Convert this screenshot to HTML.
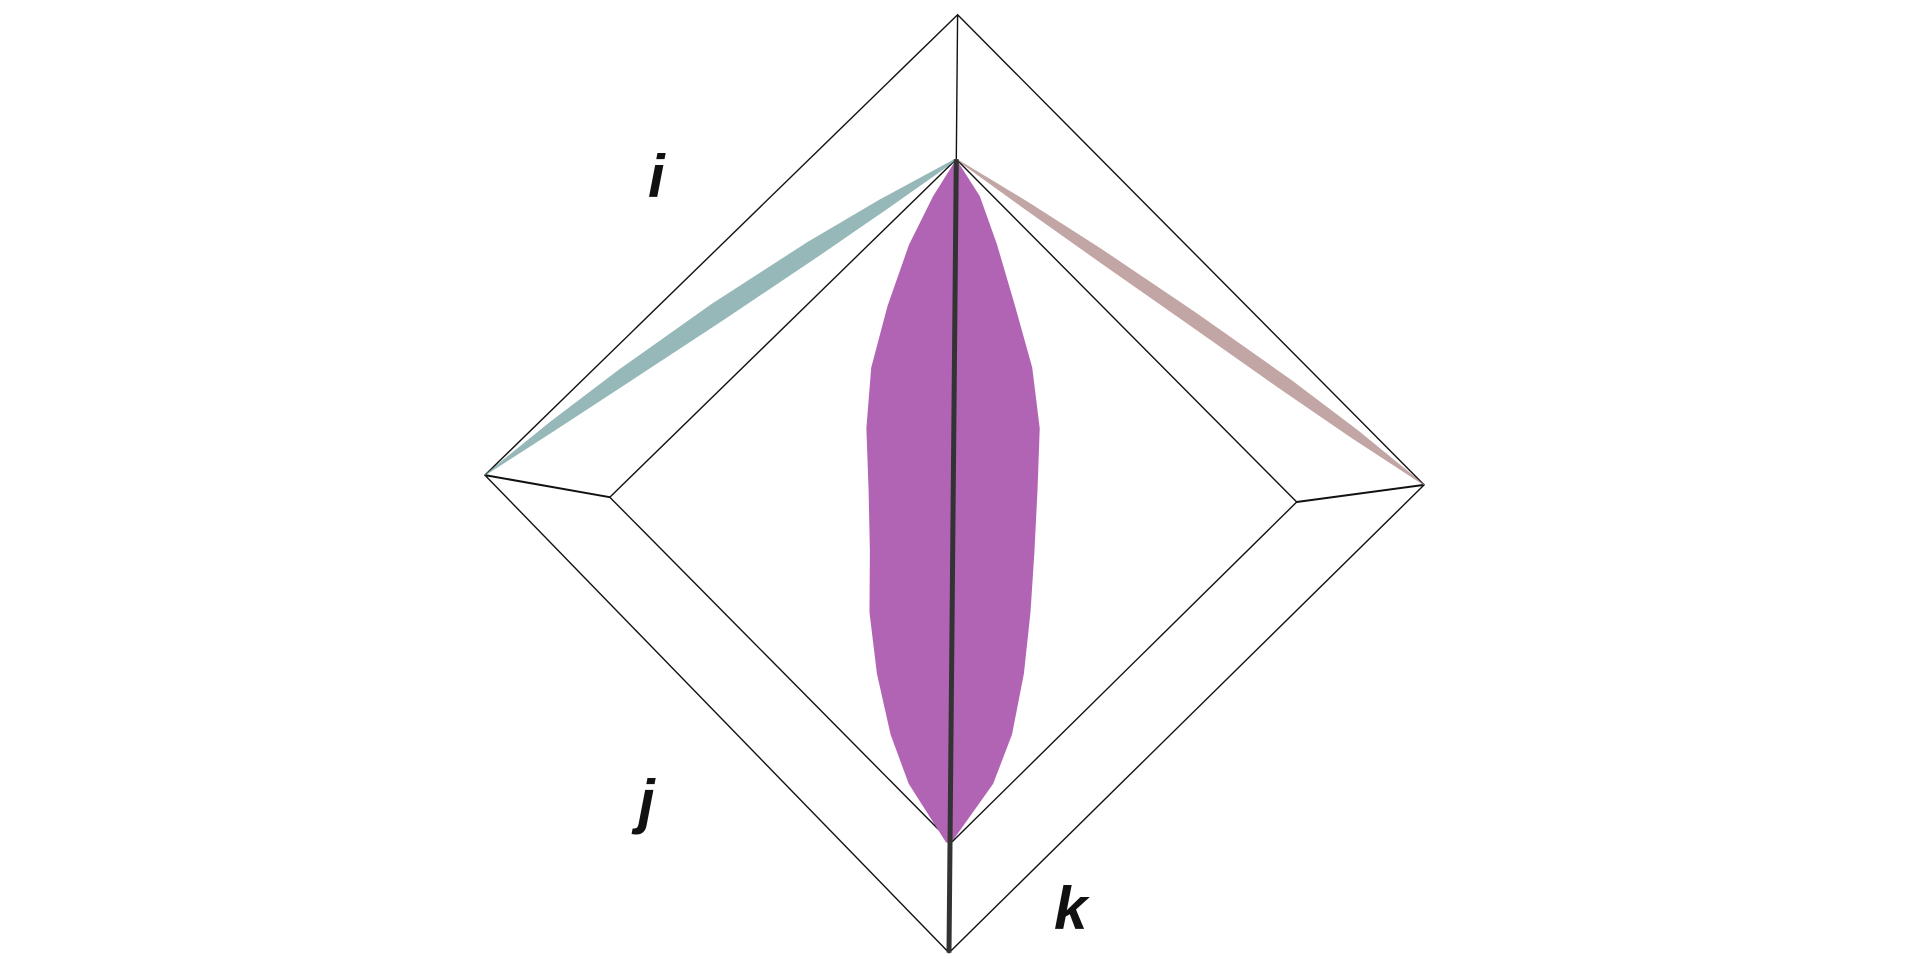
<!DOCTYPE html>
<html><head><meta charset="utf-8"><style>
html,body{margin:0;padding:0;background:#fff;}
svg{display:block;}
text{font-family:"Liberation Sans",sans-serif;font-weight:bold;font-style:italic;font-size:60px;fill:#111;}
</style></head><body>
<svg id="chart" width="1920" height="967" viewBox="0 0 1920 967" xmlns="http://www.w3.org/2000/svg">
<g id="frame" stroke="#111" stroke-width="1.4" fill="none">
<polygon points="957.6,14.7 484.9,475.1 949,952.7 1424.1,484.9"/>
<polygon points="956.3,159.2 609.8,497.2 951.4,842.5 1296.7,502"/>
<line x1="957.6" y1="14.7" x2="956.3" y2="159.2"/>
<line x1="484.9" y1="475.1" x2="609.8" y2="497.2" stroke-width="2"/>
<line x1="1424.1" y1="484.9" x2="1296.7" y2="502" stroke-width="2"/>
</g>
<g id="marks"></g>
<line x1="956.3" y1="159.2" x2="949" y2="952.7" stroke="#333" stroke-width="5"/>
<text x="648" y="197">i</text>
<text x="638" y="822">j</text>
<text x="1054" y="929">k</text>
</svg>
<script>
// purple distribution profile: depth fraction along axis and left/right extents (fraction of max half-width)
const depthLevels = [0, 0.054, 0.125, 0.215, 0.305, 0.394, 0.484, 0.574, 0.663, 0.753, 0.842, 0.914, 1];
const leftExtent  = [0, 0.26, 0.53, 0.77, 0.95, 1.0, 0.97, 0.95, 0.95, 0.86, 0.70, 0.49, 0.06];
const rightExtent = [0, 0.27, 0.47, 0.68, 0.88, 0.97, 0.95, 0.92, 0.88, 0.81, 0.68, 0.47, 0.0];
// band profile for the i and k projections (position along edge, thickness)
const bandPos = [0, 0.15, 0.3, 0.5, 0.7, 0.85, 1];
const tealWidth = [1, 10, 16, 20, 18, 12, 2];
const brownWidth = [1, 8, 12, 14, 14, 10, 1];

const NS = "http://www.w3.org/2000/svg";
const g = document.getElementById('marks');
const apex = {x:956.3, y:159.2}, innerBottom = {x:951.4, y:842.5};
const halfMax = 88;
function yScale(d){ return apex.y + d*(innerBottom.y-apex.y); }
function xCenter(d){ return apex.x + d*(innerBottom.x-apex.x); }

let pts = [];
depthLevels.forEach((d,i)=>pts.push((xCenter(d)+rightExtent[i]*halfMax)+','+yScale(d)));
for(let i=depthLevels.length-1;i>=0;i--) pts.push((xCenter(depthLevels[i])-leftExtent[i]*halfMax)+','+yScale(depthLevels[i]));
const poly = document.createElementNS(NS,'polygon');
poly.setAttribute('points', pts.join(' '));
poly.setAttribute('fill', '#b264b4');


g.appendChild(poly);

function band(p0, p1, widths, color, name, bulge){
  const dx=p1.x-p0.x, dy=p1.y-p0.y, L=Math.hypot(dx,dy);
  const nx=dy/L, ny=-dx/L;
  const up=[], dn=[];
  bandPos.forEach((t,i)=>{
    const b = bulge*4*t*(1-t);
    const cx=p0.x+dx*t+nx*b, cy=p0.y+dy*t+ny*b;
    up.push((cx+nx*widths[i]/2)+','+(cy+ny*widths[i]/2));
    dn.unshift((cx-nx*widths[i]/2)+','+(cy-ny*widths[i]/2));
  });
  const el=document.createElementNS(NS,'polygon');
  el.setAttribute('points', up.concat(dn).join(' '));
  el.setAttribute('fill', color);
  el.setAttribute('fill-opacity','0.7');
  
  
  g.appendChild(el);
}
band({x:484.9,y:475.1}, apex, tealWidth, '#6a9a9a', 'teal-projection-band', 6);
band(apex, {x:1424.1,y:484.9}, brownWidth, '#a88080', 'brown-projection-band', 4);
</script>
</body></html>
